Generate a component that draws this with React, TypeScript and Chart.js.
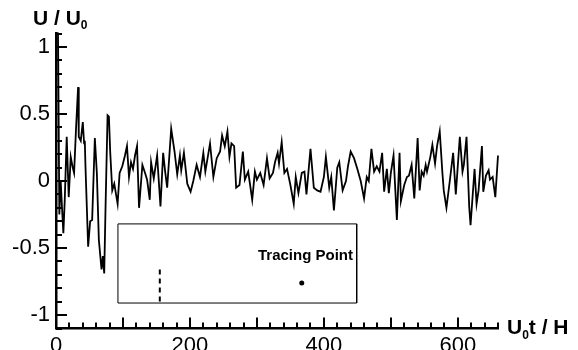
import React, { useEffect, useRef } from "react";
import { Chart, registerables } from "chart.js";

Chart.register(...registerables);

// ---- Data (U0 t / H  vs  U / U0) ----
const timeValues = [
  0, 3, 5, 7, 9, 11, 13, 16, 19, 22, 25, 27, 30, 33, 34, 37, 40, 42, 43, 44,
  48, 51, 54, 58, 61, 64, 68, 70, 72, 74, 77, 79, 81, 84, 87, 92, 95, 99, 103, 106,
  109, 112, 115, 118, 121, 124, 129, 133, 136, 140, 142, 146, 151, 156, 160, 163, 166, 172, 177, 181,
  185, 187, 191, 196, 201, 205, 210, 215, 220, 223, 230, 235, 240, 245, 248, 252, 256, 259, 262, 266,
  269, 274, 279, 282, 287, 289, 293, 297, 300, 305, 310, 315, 319, 324, 327, 331, 333, 337, 341, 345,
  350, 355, 358, 362, 367, 371, 374, 380, 385, 390, 395, 400, 403, 408, 411, 415, 420, 423, 428, 433,
  436, 440, 445, 450, 455, 460, 464, 467, 471, 475, 479, 483, 487, 490, 494, 497, 500, 504, 509, 513,
  515, 520, 524, 527, 531, 535, 540, 543, 546, 549, 552, 554, 559, 562, 566, 569, 573, 577, 579, 583,
  588, 593, 597, 603, 607, 609, 613, 617, 619, 625, 628, 631, 636, 638, 642, 646, 648, 652, 656, 660,
];
const velocityValues = [
  1.1, 1.1, -0.25, 0.0, -0.2, -0.39, -0.15, 0.33, -0.12, 0.18, 0.1, 0.06, 0.4, 0.7, 0.33, 0.3, 0.44, 0.28, 0.3, 0.11,
  -0.49, -0.3, -0.29, 0.32, 0.06, -0.44, -0.66, -0.56, -0.69, -0.19, 0.49, 0.48, 0.21, -0.07, -0.02, -0.17, 0.06, 0.11, 0.19, 0.26,
  0.03, 0.14, 0.09, 0.19, 0.26, -0.2, 0.12, 0.06, 0.01, -0.14, 0.14, 0.02, 0.19, -0.19, 0.21, 0.07, -0.05, 0.39, 0.22, 0.05,
  0.19, 0.08, 0.21, -0.02, -0.08, 0.0, 0.12, 0.03, 0.21, 0.07, 0.28, 0.03, 0.17, 0.22, 0.34, 0.26, 0.37, 0.18, 0.28, 0.26,
  -0.05, -0.03, 0.22, 0.01, 0.07, 0.0, -0.14, 0.07, 0.01, 0.06, -0.03, 0.17, 0.02, 0.06, 0.14, 0.21, 0.13, 0.29, 0.06, 0.09,
  -0.03, -0.17, 0.03, -0.09, 0.06, 0.07, -0.1, 0.24, -0.05, -0.07, -0.08, 0.03, 0.18, -0.05, 0.03, -0.22, 0.1, 0.14, -0.07, 0.0,
  0.11, 0.22, 0.17, 0.09, 0.0, -0.13, 0.03, 0.0, 0.24, 0.07, 0.11, 0.07, 0.21, -0.08, 0.09, -0.09, 0.06, 0.19, -0.29, 0.21,
  -0.15, -0.03, 0.03, 0.04, 0.12, -0.13, 0.32, -0.07, 0.07, 0.04, 0.12, 0.07, 0.18, 0.27, 0.13, 0.26, 0.37, 0.06, -0.07, -0.2,
  0.0, 0.21, -0.1, 0.33, 0.07, 0.12, 0.33, -0.19, -0.33, 0.09, -0.17, -0.07, 0.26, -0.08, 0.04, 0.08, 0.01, 0.03, -0.12, 0.19,
];

// ---- Axes ----
const xRange = [0, 660];
const yRange = [-1.1, 1.1];
const xLabelTicks = [0, 200, 400, 600];
const yLabelTicks = [-1, -0.5, 0, 0.5, 1];
const xMajorTicks = [0, 100, 200, 300, 400, 500, 600];
const yMajorTicks = [-1, -0.5, 0, 0.5, 1];
const xMinorStep = 20;
const yMinorStep = 0.1;

// ---- Inset schematic (data coordinates) ----
const insetBoxX = [92.5, 449, 449, 92.5, 92.5];
const insetBoxY = [-0.32, -0.32, -0.91, -0.91, -0.32];
const dashedLineX = [155, 155];
const dashedLineY = [-0.66, -0.91];
const tracingPointX = [367];
const tracingPointY = [-0.76];

const FONT = '"Liberation Sans", Arial, sans-serif';

const pts = (xs: number[], ys: number[]) => xs.map((x, i) => ({ x, y: ys[i] }));

const inwardTicks = {
  id: "inwardTicks",
  afterDraw(chart: any) {
    const { ctx, chartArea } = chart;
    const x = chart.scales.x;
    const y = chart.scales.y;
    ctx.save();
    ctx.strokeStyle = "#000";
    ctx.lineWidth = 2;
    ctx.beginPath();
    const isMajor = (v: number, list: number[]) => list.some((m) => Math.abs(m - v) < 1e-6);
    for (let v = xRange[0]; v <= xRange[1] + 1e-6; v += xMinorStep) {
      const len = isMajor(v, xMajorTicks) ? 11 : 6;
      const px = Math.round(x.getPixelForValue(v));
      ctx.moveTo(px, chartArea.bottom);
      ctx.lineTo(px, chartArea.bottom - len);
    }
    for (let k = Math.ceil(yRange[0] / yMinorStep); k <= Math.floor(yRange[1] / yMinorStep); k++) {
      const v = k * yMinorStep;
      const len = isMajor(v, yMajorTicks) ? 11 : 6;
      const py = Math.round(y.getPixelForValue(v));
      ctx.moveTo(chartArea.left, py);
      ctx.lineTo(chartArea.left + len, py);
    }
    ctx.stroke();
    ctx.restore();
  },
};

function ChartCanvas() {
  const ref = useRef<HTMLCanvasElement | null>(null);
  useEffect(() => {
    if (!ref.current) return;
    const chart = new Chart(ref.current, {
      type: "scatter",
      data: {
        datasets: [
          {
            data: pts(timeValues, velocityValues),
            showLine: true,
            borderColor: "#000",
            borderWidth: 1.8,
            pointRadius: 0,
            tension: 0,
            clip: false as any,
          },
          {
            data: pts(insetBoxX, insetBoxY),
            showLine: true,
            borderColor: "#000",
            borderWidth: 1,
            pointRadius: 0,
          },
          {
            data: pts(dashedLineX, dashedLineY),
            showLine: true,
            borderColor: "#000",
            borderWidth: 2,
            borderDash: [5, 4],
            pointRadius: 0,
          },
          {
            data: pts(tracingPointX, tracingPointY),
            showLine: false,
            pointRadius: 2.5,
            pointBackgroundColor: "#000",
            pointBorderColor: "#000",
            pointBorderWidth: 0,
          },
        ],
      },
      options: {
        animation: false,
        responsive: false,
        events: [],
        layout: { padding: { left: 0, right: 80, top: 33.5, bottom: 0 } },
        plugins: { legend: { display: false }, tooltip: { enabled: false } },
        scales: {
          x: {
            type: "linear",
            min: xRange[0],
            max: xRange[1],
            afterBuildTicks: (s: any) => {
              s.ticks = xLabelTicks.map((v) => ({ value: v }));
            },
            afterFit: (s: any) => {
              s.height = 21.5;
            },
            grid: { display: false, drawTicks: false, tickLength: 0 },
            border: { display: true, color: "#000", width: 2.5 },
            ticks: {
              color: "#000",
              font: { family: FONT, size: 22 },
              padding: 4,
              maxRotation: 0,
              autoSkip: false,
            },
          },
          y: {
            type: "linear",
            min: yRange[0],
            max: yRange[1],
            afterBuildTicks: (s: any) => {
              s.ticks = yLabelTicks.map((v) => ({ value: v }));
            },
            afterFit: (s: any) => {
              s.width = 56;
            },
            grid: { display: false, drawTicks: false, tickLength: 0 },
            border: { display: true, color: "#000", width: 2.5 },
            ticks: {
              color: "#000",
              font: { family: FONT, size: 22 },
              padding: 6,
              autoSkip: false,
              callback: (v: any) => String(v),
            },
          },
        },
      },
      plugins: [inwardTicks],
    });
    return () => chart.destroy();
  }, []);
  return <canvas ref={ref} width={578} height={350} style={{ display: "block" }} />;
}

export default function App() {
  const titleStyle: React.CSSProperties = {
    position: "absolute",
    fontFamily: FONT,
    fontWeight: "bold",
    fontSize: 21,
    lineHeight: "21px",
    whiteSpace: "nowrap",
    color: "#000",
  };
  const sub: React.CSSProperties = { fontSize: 12, position: "relative", top: 4 };
  return (
    <div
      style={{
        position: "fixed",
        left: 0,
        top: 0,
        width: 578,
        height: 350,
        background: "#fff",
        overflow: "hidden",
      }}
    >
      <ChartCanvas />
      <div style={{ ...titleStyle, left: 33, top: 7.2 }}>
        U / U<span style={sub}>0</span>
      </div>
      <div style={{ ...titleStyle, left: 507, top: 316.2 }}>
        U<span style={{ ...sub, top: 5 }}>0</span>t / H
      </div>
      <div
        style={{
          ...titleStyle,
          fontSize: 15,
          lineHeight: "15px",
          left: "auto",
          right: 578 - 353,
          top: 247.3,
        }}
      >
        Tracing Point
      </div>
    </div>
  );
}
